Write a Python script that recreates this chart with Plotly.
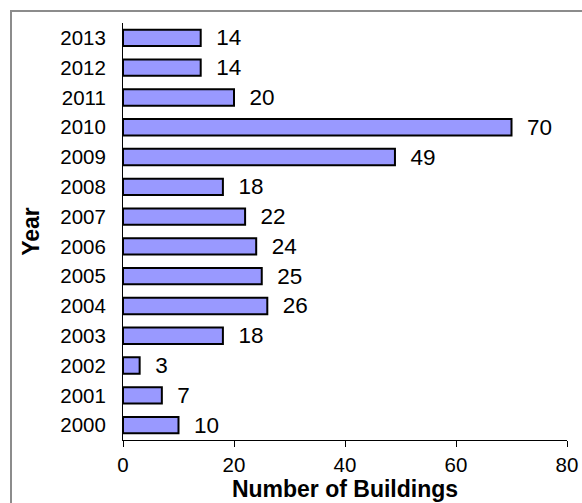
import plotly.graph_objects as go

years = ["2000", "2001", "2002", "2003", "2004", "2005", "2006",
         "2007", "2008", "2009", "2010", "2011", "2012", "2013"]
buildings = [10, 7, 3, 18, 26, 25, 24, 22, 18, 49, 70, 20, 14, 14]

x_ticks = [0, 20, 40, 60, 80]

FONT = "Liberation Sans, Arial, sans-serif"

fig = go.Figure(go.Bar(
    y=years, x=buildings, orientation="h",
    marker=dict(color="#9999FF", line=dict(color="black", width=2)),
    width=0.55,
    text=["  " + str(v) for v in buildings],
    textposition="outside",
    constraintext="none",
    textfont=dict(family=FONT, size=22.5, color="black"),
    cliponaxis=False,
))

W, H = 582, 503
L, R, T, B = 123, 15, 23, 63
pw, ph = W - L - R, H - T - B

fig.update_layout(
    width=W, height=H,
    margin=dict(l=L, r=R, t=T, b=B, pad=0),
    paper_bgcolor="white", plot_bgcolor="white",
    showlegend=False,
    font=dict(family=FONT, color="black"),
    xaxis=dict(
        range=[0, 80], tickvals=x_ticks, ticktext=[str(t) for t in x_ticks],
        showgrid=False, zeroline=False, automargin=False,
        showline=True, linecolor="black", linewidth=1,
        ticks="outside", ticklen=6, tickcolor="black",
        tickfont=dict(family=FONT, size=20.5),
        title=dict(text="<b>Number of Buildings</b>", font=dict(family=FONT, size=23), standoff=4),
    ),
    yaxis=dict(
        categoryorder="array", categoryarray=years,
        showgrid=False, zeroline=False, automargin=False,
        showline=True, linecolor="black", linewidth=1,
        ticks="", ticklabelstandoff=12,
        tickfont=dict(family=FONT, size=20.5),
        title=dict(text="<b>Year</b>", font=dict(family=FONT, size=23), standoff=14),
    ),
    shapes=[dict(
        type="rect", xref="paper", yref="paper",
        x0=(11 - L) / pw, x1=(W + 10 - L) / pw,
        y0=-(B + 10) / ph, y1=1 + (T - 11) / ph,
        line=dict(color="#8c8c8c", width=2), fillcolor="rgba(0,0,0,0)", layer="below",
    )],
)

fig.write_html(
    "out.html",
    config={"displayModeBar": False},
    post_script="document.body.style.margin='0';document.body.style.overflow='hidden';",
)
